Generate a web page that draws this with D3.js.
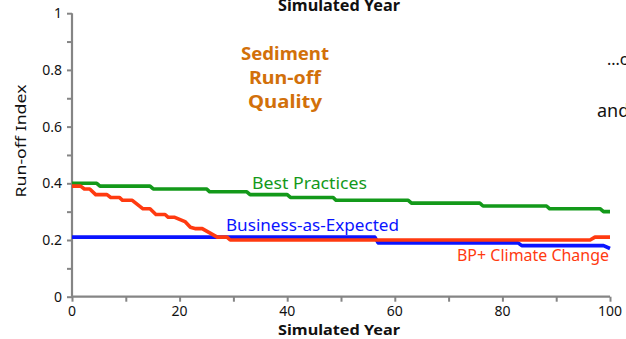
<!DOCTYPE html>
<html>
<head>
<meta charset="utf-8">
<script src="https://cdn.jsdelivr.net/npm/d3@7"></script>
<style>
  html, body { margin: 0; padding: 0; background: #fff; overflow: hidden; }
  svg { display: block; }
  text { font-family: "Comic Sans MS", "Noto Sans", sans-serif; }
</style>
</head>
<body>
<svg id="chart" width="626" height="339"></svg>
<script>
// Run-off index per scenario, as line vertices (simulated year, index)
const bestPracticesYears  = [0, 4.6, 5.2, 14.5, 15.1, 25.0, 25.6, 32.5, 33.1, 40.0, 40.6, 48.5, 49.1, 62.5, 63.1, 75.8, 76.4, 88.2, 88.8, 98.2, 98.8, 100];
const bestPracticesValues = [0.40, 0.40, 0.39, 0.39, 0.38, 0.38, 0.37, 0.37, 0.36, 0.36, 0.35, 0.35, 0.34, 0.34, 0.33, 0.33, 0.32, 0.32, 0.31, 0.31, 0.30, 0.30];

const businessYears  = [0, 56.3, 56.9, 82.9, 83.6, 98.8, 100];
const businessValues = [0.21, 0.21, 0.19, 0.19, 0.18, 0.18, 0.17];

const climateYears  = [0, 1.6, 2.3, 3.3, 4.4, 6.5, 7.2, 8.8, 9.4, 11.2, 13.2, 14.5, 15.6, 17.3, 17.9, 19.1, 21.0, 22.0, 23.0, 24.2, 27.0, 28.8, 29.4, 96.3, 97.2, 100];
const climateValues = [0.39, 0.39, 0.38, 0.38, 0.36, 0.36, 0.35, 0.35, 0.34, 0.34, 0.31, 0.31, 0.29, 0.29, 0.28, 0.28, 0.265, 0.245, 0.24, 0.24, 0.21, 0.21, 0.20, 0.20, 0.21, 0.21];

const xTickLabels = [0, 20, 40, 60, 80, 100];
const yTickLabels = [0, 0.2, 0.4, 0.6, 0.8, 1];
const xMinorTicks = [0, 10, 20, 30, 40, 50, 60, 70, 80, 90, 100];
const yMinorTicks = [0, 0.1, 0.2, 0.3, 0.4, 0.5, 0.6, 0.7, 0.8, 0.9, 1];

const svg = d3.select("#chart");
const x = d3.scaleLinear().domain([0, 100]).range([72, 610]);
const y = d3.scaleLinear().domain([0, 1]).range([296.7, 13.2]);

const axisColor = "#858585";

// X axis: ticks every 10, labels every 20
const xAxis = svg.append("g").attr("transform", `translate(0,${y(0)})`)
  .call(d3.axisBottom(x).tickValues(xMinorTicks).tickSize(5).tickFormat(""));
xAxis.select(".domain").attr("stroke", axisColor).attr("stroke-width", 2.2)
  .attr("d", `M${x(0)},0H${x(100)}`);
xAxis.selectAll(".tick line").attr("stroke", axisColor).attr("stroke-width", 2);

svg.append("g").selectAll("text").data(xTickLabels).join("text")
  .attr("x", d => x(d)).attr("y", 316)
  .attr("text-anchor", "middle").attr("font-size", 14).attr("fill", "#111")
  .text(d => d);

// Y axis: ticks every 0.1, labels every 0.2
const yAxis = svg.append("g").attr("transform", `translate(${x(0)},0)`)
  .call(d3.axisLeft(y).tickValues(yMinorTicks).tickSize(5).tickFormat(""));
yAxis.select(".domain").attr("stroke", axisColor).attr("stroke-width", 2.2)
  .attr("d", `M0,${y(0)}V${y(1)}`);
yAxis.selectAll(".tick line").attr("stroke", axisColor).attr("stroke-width", 2);

svg.append("g").selectAll("text").data(yTickLabels).join("text")
  .attr("x", 62).attr("y", d => y(d) + 5)
  .attr("text-anchor", "end").attr("font-size", 14).attr("fill", "#111")
  .text(d => d);

// Axis titles
svg.append("text")
  .attr("transform", "translate(26,141) rotate(-90)")
  .attr("text-anchor", "middle").attr("font-size", 15).attr("fill", "#111")
  .attr("textLength", 113).attr("lengthAdjust", "spacingAndGlyphs")
  .text("Run-off Index");

svg.append("text")
  .attr("x", 339).attr("y", 335)
  .attr("text-anchor", "middle").attr("font-size", 15).attr("font-weight", "bold").attr("fill", "#111")
  .attr("textLength", 122).attr("lengthAdjust", "spacingAndGlyphs")
  .text("Simulated Year");

svg.append("text")
  .attr("x", 339).attr("y", 10.5)
  .attr("text-anchor", "middle").attr("font-size", 16).attr("font-weight", "bold").attr("fill", "#111")
  .attr("textLength", 122).attr("lengthAdjust", "spacingAndGlyphs")
  .text("Simulated Year");

// Panel heading
const heading = ["Sediment", "Run-off", "Quality"];
const headingBase = [60, 84, 108];
const headingWidth = [88, 72, 74];
svg.append("g").selectAll("text").data(heading).join("text")
  .attr("x", 285).attr("y", (d, i) => headingBase[i])
  .attr("text-anchor", "middle").attr("font-size", 18).attr("font-weight", "bold")
  .attr("fill", "#d2700a")
  .attr("textLength", (d, i) => headingWidth[i]).attr("lengthAdjust", "spacingAndGlyphs")
  .text(d => d);

// Side notes running off the right edge
svg.append("text").attr("x", 607).attr("y", 65).attr("font-size", 16).attr("fill", "#111").text("...c");
svg.append("text").attr("x", 597).attr("y", 117).attr("font-size", 18).attr("fill", "#111").text("and");

// Series lines
const line = d3.line().x(d => x(d[0])).y(d => y(d[1]));
const series = [
  { years: bestPracticesYears, values: bestPracticesValues, color: "#13991a" },
  { years: businessYears, values: businessValues, color: "#0a14ff" },
  { years: climateYears, values: climateValues, color: "#ff3a10" }
];
svg.append("g").selectAll("path").data(series).join("path")
  .attr("d", s => line(s.years.map((yr, i) => [yr, s.values[i]])))
  .attr("fill", "none").attr("stroke", s => s.color)
  .attr("stroke-width", 3.6).attr("stroke-linejoin", "round");

// Series labels
const labels = [
  { text: "Best Practices", x: 252, y: 189, w: 115, color: "#13991a" },
  { text: "Business-as-Expected", x: 226, y: 231, w: 173, color: "#0a14ff" },
  { text: "BP+ Climate Change", x: 457, y: 261, w: 152, color: "#ff3a10" }
];
svg.append("g").selectAll("text").data(labels).join("text")
  .attr("x", d => d.x).attr("y", d => d.y)
  .attr("font-size", 16).attr("fill", d => d.color)
  .attr("textLength", d => d.w).attr("lengthAdjust", "spacingAndGlyphs")
  .text(d => d.text);
</script>
</body>
</html>
